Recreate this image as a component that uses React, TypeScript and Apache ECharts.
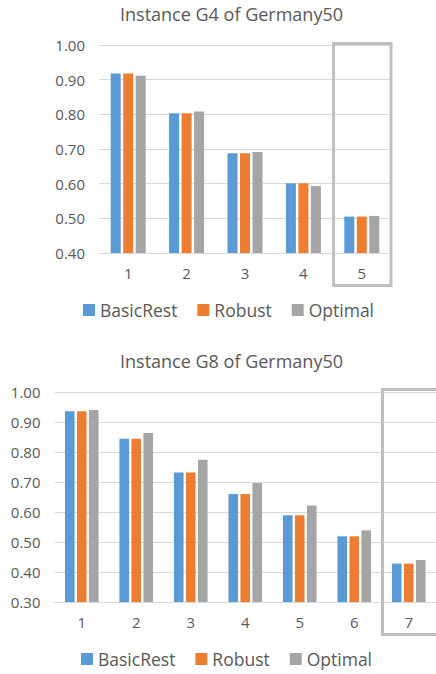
import React, { useEffect, useRef } from "react";
import * as echarts from "echarts";

const seriesNames = ["BasicRest", "Robust", "Optimal"];
const seriesColors = ["#5b9bd5", "#ed7d31", "#a5a5a5"];

const g4Title = "Instance G4 of Germany50";
const g4Categories = ["1", "2", "3", "4", "5"];
const g4BasicRest = [0.918, 0.803, 0.688, 0.601, 0.505];
const g4Robust = [0.918, 0.803, 0.688, 0.601, 0.505];
const g4Optimal = [0.911, 0.808, 0.691, 0.593, 0.507];
const g4YMin = 0.4;
const g4YMax = 1.0;
const g4Highlight = "5";

const g8Title = "Instance G8 of Germany50";
const g8Categories = ["1", "2", "3", "4", "5", "6", "7"];
const g8BasicRest = [0.936, 0.844, 0.732, 0.66, 0.589, 0.519, 0.428];
const g8Robust = [0.936, 0.844, 0.732, 0.66, 0.589, 0.519, 0.428];
const g8Optimal = [0.94, 0.863, 0.774, 0.697, 0.622, 0.539, 0.44];
const g8YMin = 0.3;
const g8YMax = 1.0;
const g8Highlight = "7";

const yInterval = 0.1;
const FONT = "'Open Sans', sans-serif";
const TEXT = "#595959";
const GRID = "#d9d9d9";

export default function App() {
  const ref = useRef<HTMLDivElement>(null);
  useEffect(() => {
    if (!ref.current) return;
    const chart = echarts.init(ref.current, undefined, { renderer: "svg" });
    const grids = [
      { left: 99, right: 45, top: 45, height: 208 },
      { left: 54.5, right: 0, top: 392, height: 210 },
    ];
    const cats = [g4Categories, g8Categories];
    const mins = [g4YMin, g8YMin];
    const maxs = [g4YMax, g8YMax];
    const data = [
      [g4BasicRest, g4Robust, g4Optimal],
      [g8BasicRest, g8Robust, g8Optimal],
    ];
    const barW = [10, 9.6];
    const series: any[] = [];
    [0, 1].forEach((gi) => {
      seriesNames.forEach((name, si) => {
        series.push({
          type: "bar",
          name,
          xAxisIndex: gi,
          yAxisIndex: gi,
          data: data[gi][si],
          barWidth: barW[gi],
          barGap: "25%",
          itemStyle: { color: seriesColors[si] },
        });
      });
    });
    const titleStyle = { color: TEXT, fontSize: 18, fontWeight: "normal", fontFamily: FONT };
    const legendBase = { data: seriesNames, icon: "rect", itemWidth: 12, itemHeight: 12, itemGap: 20, textStyle: { color: TEXT, fontSize: 17.5, fontFamily: FONT } };
    chart.setOption({
      animation: false,
      textStyle: { fontFamily: FONT },
      title: [
        { text: g4Title, left: 226.5, textAlign: "center", top: 0, textStyle: titleStyle },
        { text: g8Title, left: 226.5, textAlign: "center", top: 347, textStyle: titleStyle },
      ],
      legend: [
        { ...legendBase, left: 78, top: 296 },
        { ...legendBase, left: 76, top: 645 },
      ],
      grid: grids,
      xAxis: [0, 1].map((gi) => ({
        type: "category",
        gridIndex: gi,
        data: cats[gi],
        axisLine: { show: true, lineStyle: { color: GRID, width: 1 } },
        axisTick: { show: false },
        axisLabel: { color: TEXT, fontSize: 15, margin: 12, fontFamily: FONT },
      })),
      yAxis: [0, 1].map((gi) => ({
        type: "value",
        gridIndex: gi,
        min: mins[gi],
        max: maxs[gi],
        interval: yInterval,
        axisLine: { show: false },
        axisTick: { show: false },
        splitLine: { lineStyle: { color: GRID, width: 1 } },
        axisLabel: { color: TEXT, fontSize: 15, margin: 14, fontFamily: FONT, formatter: (v: number) => v.toFixed(2) },
      })),
      series,
    });
    // highlight boxes around the last category of each chart
    const highlights = [g4Highlight, g8Highlight];
    const extendRight = [0, 20];
    const graphics: any[] = [];
    [0, 1].forEach((gi) => {
      const cx = chart.convertToPixel({ xAxisIndex: gi } as any, highlights[gi]) as number;
      const yTop = chart.convertToPixel({ yAxisIndex: gi } as any, maxs[gi]) as number;
      const yBot = chart.convertToPixel({ yAxisIndex: gi } as any, mins[gi]) as number;
      const band = (436 - grids[gi].left - grids[gi].right) / cats[gi].length;
      graphics.push({
        type: "rect",
        shape: { x: cx - band / 2 + 1, y: yTop - 1.5 - gi, width: band - 1 + extendRight[gi], height: yBot - yTop + 34 + gi },
        style: { fill: "none", stroke: "#bfbfbf", lineWidth: 3 },
        z: 10,
      });
    });
    chart.setOption({ graphic: graphics });
    return () => chart.dispose();
  }, []);
  return <div ref={ref} style={{ position: "absolute", left: 0, top: 0, width: 436, height: 674, background: "#fff" }} />;
}
